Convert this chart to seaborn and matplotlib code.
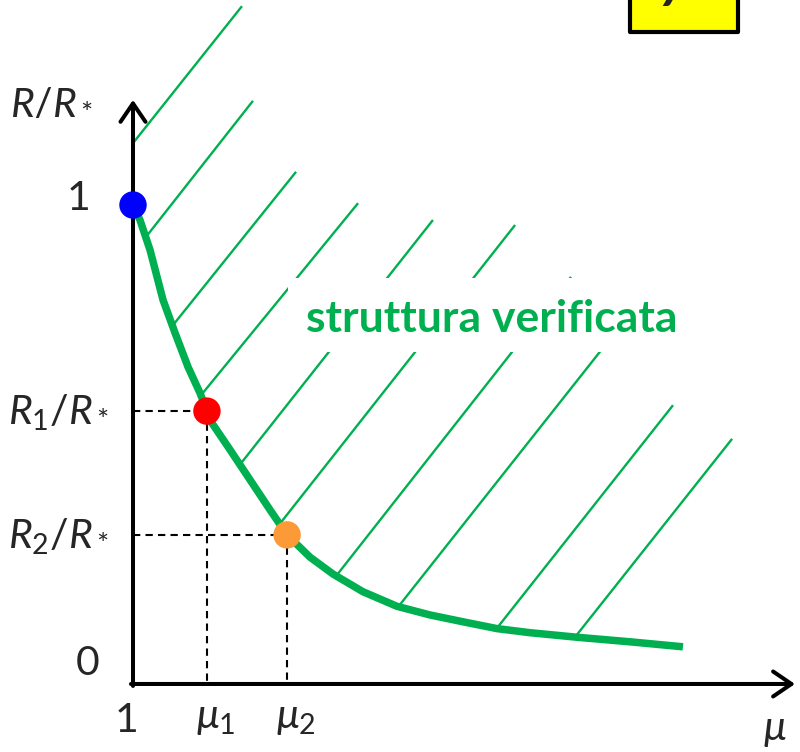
import matplotlib
matplotlib.use("Agg")
import matplotlib.pyplot as plt
from matplotlib.patches import Rectangle
import pandas as pd
import seaborn as sns

# Resistance ratio R/R* against ductility mu
curve_mu = [1.000, 1.045, 1.110, 1.194, 1.271, 1.355, 1.432, 1.477, 1.497, 1.626,
            1.755, 1.884, 1.994, 2.142, 2.290, 2.484, 2.703, 2.916, 3.129, 3.348,
            3.561, 3.865, 4.206, 4.548]
curve_r = [1.000, 0.967, 0.901, 0.791, 0.719, 0.644, 0.587, 0.547, 0.527, 0.462,
           0.396, 0.330, 0.275, 0.226, 0.189, 0.150, 0.118, 0.099, 0.084, 0.069,
           0.060, 0.050, 0.040, 0.029]

# Highlighted points: start of the curve, (mu1, R1/R*), (mu2, R2/R*)
point_mu = [1.000, 1.477, 1.994]
point_r = [1.000, 0.547, 0.275]
point_colors = ["#0000FF", "#FF0000", "#FB9A36"]

# Hatching of the verified region (start on curve / axis, end up-right)
hatch_mu0 = [1.000, 1.084, 1.258, 1.439, 1.703, 1.942, 2.316, 2.716, 3.348, 3.858]
hatch_r0 = [1.136, 0.930, 0.736, 0.582, 0.435, 0.297, 0.187, 0.119, 0.070, 0.053]
hatch_mu1 = [1.703, 1.774, 2.052, 2.452, 2.935, 3.465, 3.826, 4.174, 4.484, 4.865]
hatch_r1 = [1.437, 1.229, 1.073, 1.004, 0.967, 0.956, 0.842, 0.747, 0.560, 0.486]

y_tick_labels = ["1", r"$R_1/R_*$", r"$R_2/R_*$", "0"]
x_tick_labels = ["1", r"$\mu_1$", r"$\mu_2$"]
y_axis_label = r"$R/R_*$"
x_axis_label = r"$\mu$"
region_label = "struttura verificata"
tag_label = "7"

GREEN = "#00B050"

sns.set_theme(style="white")
plt.rcParams["font.family"] = ["Lato", "DejaVu Sans"]
plt.rcParams["mathtext.fontset"] = "custom"
plt.rcParams["mathtext.rm"] = "Lato"
plt.rcParams["mathtext.it"] = "Lato:italic"
plt.rcParams["mathtext.bf"] = "Lato:bold"

fig = plt.figure(figsize=(8, 7.52), dpi=100)
ax = fig.add_axes([0, 0, 1, 1])
ax.set_xlim(0.14194, 5.30323)
ax.set_ylim(-0.20220, 1.45055)
ax.axis("off")

AX_Y = -0.0527  # level of the mu axis

# hatch lines
for m0, r0, m1, r1 in zip(hatch_mu0, hatch_r0, hatch_mu1, hatch_r1):
    ax.plot([m0, m1], [r0, r1], color=GREEN, lw=1.7, zorder=1, solid_capstyle="butt")

# white box behind the region label
ax.add_patch(Rectangle((2.0, 0.677), 2.594, 0.163, facecolor="white",
                       edgecolor="none", zorder=2))
ax.text(3.316, 0.721, region_label, color=GREEN, fontsize=32, fontweight="bold",
        ha="center", va="baseline", zorder=3)

# dashed guides to the axes
for m, r in zip(point_mu[1:], point_r[1:]):
    ax.plot([1.0, m], [r, r], color="black", lw=1.5, ls=(0, (3.5, 2.5)), zorder=2)
    ax.plot([m, m], [r, AX_Y], color="black", lw=1.5, ls=(0, (3.5, 2.5)), zorder=2)

# curve
df = pd.DataFrame({"mu": curve_mu, "r": curve_r})
sns.lineplot(data=df, x="mu", y="r", sort=False, color=GREEN, lw=5.4, ax=ax,
             zorder=4, solid_capstyle="butt", solid_joinstyle="round")

# axes with arrows
arrow = dict(arrowstyle="->,head_length=1.1,head_width=0.75", lw=2.9, color="black",
             shrinkA=0, shrinkB=0)
ax.annotate("", xy=(1.0, 1.231), xytext=(1.0, -0.057), arrowprops=arrow, zorder=5)
ax.annotate("", xy=(5.271, AX_Y), xytext=(0.987, AX_Y), arrowprops=arrow, zorder=5)

# points
pts = pd.DataFrame({"mu": point_mu, "r": point_r, "c": point_colors})
sns.scatterplot(data=pts, x="mu", y="r", hue="c", palette={c: c for c in point_colors},
                s=390, linewidth=0, legend=False, ax=ax, zorder=6)

# tick labels
fs = 29.5
ax.text(0.723, 0.989, y_tick_labels[0], fontsize=fs, ha="right", va="baseline")
ax.text(0.194, 0.5165, y_tick_labels[1], fontsize=fs, ha="left", va="baseline")
ax.text(0.194, 0.244, y_tick_labels[2], fontsize=fs, ha="left", va="baseline")
ax.text(0.787, -0.033, y_tick_labels[3], fontsize=fs, ha="right", va="baseline")
ax.text(0.955, -0.158, x_tick_labels[0], fontsize=fs, ha="center", va="baseline")
ax.text(1.406, -0.150, x_tick_labels[1], fontsize=fs, ha="left", va="baseline")
ax.text(1.923, -0.150, x_tick_labels[2], fontsize=fs, ha="left", va="baseline")

# axis labels
ax.text(0.2065, 1.202, y_axis_label, fontsize=fs, ha="left", va="baseline")
ax.text(5.065, -0.176, x_axis_label, fontsize=fs, ha="left", va="baseline")

# yellow tag at the top right
ax.add_patch(Rectangle((4.206, 1.380), 0.697, 0.2, facecolor="#FFFF00",
                       edgecolor="black", lw=3, joinstyle="round", zorder=3))
ax.text(4.48, 1.437, tag_label, fontsize=36, fontweight="bold", fontstyle="italic",
        ha="center", va="baseline", zorder=4)

fig.savefig("out.png", dpi=100)
